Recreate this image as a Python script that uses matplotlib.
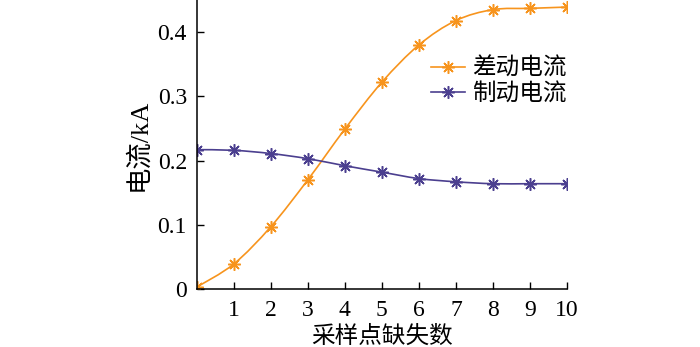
import matplotlib
matplotlib.use("Agg")
import matplotlib.pyplot as plt
import numpy as np
from matplotlib.path import Path
from matplotlib.patches import PathPatch
from matplotlib.lines import Line2D

# samples missing vs current (kA)
missing = [0, 1, 2, 3, 4, 5, 6, 7, 8, 9, 10]
diff_current = [0.003, 0.039, 0.097, 0.170, 0.249, 0.322, 0.380, 0.418, 0.435, 0.437, 0.439]
brake_current = [0.217, 0.216, 0.211, 0.203, 0.192, 0.182, 0.172, 0.167, 0.164, 0.164, 0.164]
labels = ["差动电流", "制动电流"]
colors = ["#F7941D", "#4B3F8F"]
xticks = [1, 2, 3, 4, 5, 6, 7, 8, 9, 10]
yticks = [0, 0.1, 0.2, 0.3, 0.4]
ytick_labels = ["0", "0.1", "0.2", "0.3", "0.4"]

plt.rcParams["font.family"] = ["Liberation Serif", "Noto Sans CJK SC"]


def smooth_path(x, y):
    """Catmull-Rom curve through the points, as cubic Bezier segments."""
    p = np.column_stack([x, y]).astype(float)
    ext = np.vstack([p[0], p, p[-1]])
    verts = [p[0]]
    codes = [Path.MOVETO]
    for i in range(len(p) - 1):
        p0, p1, p2, p3 = ext[i], ext[i + 1], ext[i + 2], ext[i + 3]
        verts += [p1 + (p2 - p0) / 6, p2 - (p3 - p1) / 6, p2]
        codes += [Path.CURVE4] * 3
    return Path(verts, codes)


fig = plt.figure(figsize=(7, 3.47), dpi=100)
ax = fig.add_axes([0.281, 0.167, 0.529, 0.833])

star = (8, 2, 0)
handles = []
for ys, col, lab in zip([diff_current, brake_current], colors, labels):
    ax.add_patch(PathPatch(smooth_path(missing, ys), facecolor="none",
                           edgecolor=col, lw=1.2))
    ax.plot(missing, ys, ls="none", marker=star, ms=9, mew=1.1, color=col)
    handles.append(Line2D([], [], color=col, lw=1.2, marker=star, ms=9,
                          mew=1.1, label=lab))

ax.set_xlim(0, 10)
ax.set_ylim(0, 0.45)
ax.set_xticks(xticks)
ax.set_yticks(yticks)
ax.set_yticklabels(ytick_labels)
ax.tick_params(direction="in", length=5, width=1, labelsize=17)
ax.tick_params(axis="x", pad=8)
ax.tick_params(axis="y", pad=7)
ax.spines["top"].set_visible(False)
ax.spines["right"].set_visible(False)
for s in ("left", "bottom"):
    ax.spines[s].set_linewidth(1.1)

ax.set_xlabel("采样点缺失数", fontsize=17, labelpad=3)
ax.set_ylabel("电流/kA", fontsize=19, labelpad=5)

ax.legend(handles=handles, loc="upper right", bbox_to_anchor=(1.0, 0.80),
          frameon=False, fontsize=17, handlelength=1.45, handletextpad=0.3,
          labelspacing=0.15, borderaxespad=0, borderpad=0)

fig.savefig("out.png", dpi=100)
